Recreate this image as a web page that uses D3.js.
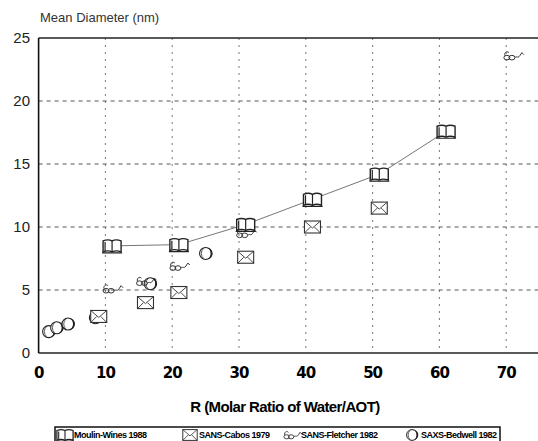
<!DOCTYPE html>
<html><head><meta charset="utf-8">
<script src="https://cdn.jsdelivr.net/npm/d3@7"></script>
<style>body{margin:0;background:#fff;} svg{display:block;font-family:"Liberation Sans",Arial,sans-serif;}</style>
</head><body>
<script>
// ---- data ----
const seriesNames = ["Moulin-Wines 1988", "SANS-Cabos 1979", "SANS-Fletcher 1982", "SAXS-Bedwell 1982"];
const bookR = [11, 21, 31, 41, 51, 61];
const bookD = [8.5, 8.6, 10.2, 12.2, 14.2, 17.6];
const envR = [9, 16, 21, 31, 41, 51];
const envD = [2.9, 4.0, 4.8, 7.6, 10.0, 11.5];
const glassR = [11, 16, 21, 31, 71];
const glassD = [5.1, 5.7, 6.9, 9.5, 23.6];
const moonR = [1.5, 2.7, 4.4, 8.5, 16.7, 25];
const moonD = [1.7, 2.0, 2.3, 2.8, 5.5, 7.9];
const xTicks = [0, 10, 20, 30, 40, 50, 60, 70];
const yTicks = [0, 5, 10, 15, 20, 25];

const W = 538, H = 441;
const svg = d3.select("body").append("svg").attr("width", W).attr("height", H);
const x = d3.scaleLinear().domain([0, 75]).range([38.6, 539.6]);
const y = d3.scaleLinear().domain([0, 25]).range([353, 38]);

// grid
svg.append("g").selectAll("line").data(xTicks.filter(d => d > 0)).join("line")
  .attr("x1", d => x(d)).attr("x2", d => x(d)).attr("y1", y(25)).attr("y2", y(0))
  .attr("stroke", "#777").attr("stroke-width", 1).attr("stroke-dasharray", "2,5");
svg.append("g").selectAll("line").data(yTicks.filter(d => d > 0 && d < 25)).join("line")
  .attr("x1", x(0)).attr("x2", W).attr("y1", d => y(d)).attr("y2", d => y(d))
  .attr("stroke", "#555").attr("stroke-width", 1).attr("stroke-dasharray", "4,4");

// frame
svg.append("line").attr("x1", x(0)).attr("x2", W).attr("y1", y(25)).attr("y2", y(25)).attr("stroke", "#222").attr("stroke-width", 1.3);
svg.append("line").attr("x1", x(0)).attr("x2", W).attr("y1", y(0)).attr("y2", y(0)).attr("stroke", "#222").attr("stroke-width", 1.3);
svg.append("line").attr("x1", x(0)).attr("x2", x(0)).attr("y1", y(25)).attr("y2", y(0)).attr("stroke", "#111").attr("stroke-width", 1.6);

// y labels
svg.append("g").selectAll("text").data(yTicks).join("text")
  .attr("x", 30).attr("y", d => y(d) + 5).attr("text-anchor", "end")
  .attr("font-size", 15).attr("fill", "#222").text(d => d);
// x labels
svg.append("g").selectAll("text").data(xTicks).join("text")
  .attr("x", d => x(d)).attr("y", 378).attr("text-anchor", "middle")
  .attr("font-size", 15).attr("font-weight", 900).attr("fill", "#000")
  .style("font-family", "'DejaVu Sans',sans-serif").attr("letter-spacing", -1).text(d => d);

svg.append("text").attr("x", 40).attr("y", 22).attr("font-size", 13).attr("fill", "#333").text("Mean Diameter (nm)");
svg.append("text").attr("x", 285).attr("y", 412).attr("text-anchor", "middle").attr("font-size", 15)
  .attr("font-weight", "bold").attr("fill", "#000").attr("letter-spacing", -0.6).text("R (Molar Ratio of Water/AOT)");

// line for series 1
const pts1 = bookR.map((r, i) => [r, bookD[i]]);
svg.append("path").datum(pts1)
  .attr("d", d3.line().x(d => x(d[0])).y(d => y(d[1])))
  .attr("fill", "none").attr("stroke", "#666").attr("stroke-width", 0.9);

// icons
function book(g) {
  g.append("path").attr("d", "M-9,-5 Q-4,-7 0,-5 Q4,-7 9,-5 L9,6 Q4,4 0,6 Q-4,4 -9,6 Z").attr("fill", "#fff").attr("stroke", "#222").attr("stroke-width", 1.4);
  g.append("path").attr("d", "M0,-5V6 M-10,7 L10,7 M-7,-4V5").attr("fill", "none").attr("stroke", "#222").attr("stroke-width", 1.2);
}
function envelope(g) {
  g.append("rect").attr("x", -8).attr("y", -6).attr("width", 16).attr("height", 12).attr("fill", "#fff").attr("stroke", "#333").attr("stroke-width", 1.1);
  g.append("path").attr("d", "M-8,-6 L0,1 L8,-6 M-8,6 L-2,0 M8,6 L2,0").attr("fill", "none").attr("stroke", "#333").attr("stroke-width", 0.9);
}
function glasses(g) {
  g.append("ellipse").attr("cx", -6).attr("cy", 2).attr("rx", 3).attr("ry", 2.3).attr("fill", "none").attr("stroke", "#333").attr("stroke-width", 1);
  g.append("ellipse").attr("cx", -1).attr("cy", 2).attr("rx", 3).attr("ry", 2.3).attr("fill", "none").attr("stroke", "#333").attr("stroke-width", 1);
  g.append("path").attr("d", "M-8,0 C-9,-3 -6,-5 -4,-3 M2,2 C4,0 5,3 7,0 L9,-3 L11,-1").attr("fill", "none").attr("stroke", "#333").attr("stroke-width", 1);
}
function moon(g) {
  g.append("circle").attr("r", 6).attr("fill", "#fff").attr("stroke", "#222").attr("stroke-width", 1.1);
  g.append("path").attr("d", "M1,-6 A6,6 0 0 1 1,6 A4,6 0 0 0 1,-6 Z").attr("fill", "#222");
  g.append("path").attr("d", "M-2,-5 A5,6 0 0 0 -2,5").attr("fill", "none").attr("stroke", "#333").attr("stroke-width", 0.8);
}

function drawSeries(R, D, fn) {
  const g = svg.append("g");
  R.forEach((r, i) => {
    const s = g.append("g").attr("transform", `translate(${x(r)},${y(D[i])})`);
    fn(s);
  });
}
drawSeries(moonR, moonD, moon);
drawSeries(envR, envD, envelope);
drawSeries(glassR, glassD, glasses);
drawSeries(bookR, bookD, book);

// legend
const lg = svg.append("g");
lg.append("rect").attr("x", 55).attr("y", 427).attr("width", 445).attr("height", 22)
  .attr("fill", "#fff").attr("stroke", "#111").attr("stroke-width", 1.5);
const legX = [65, 190, 292, 412];
const icons = [book, envelope, glasses, moon];
seriesNames.forEach((n, i) => {
  const ig = lg.append("g").attr("transform", `translate(${legX[i]},${435}) scale(0.9)`);
  icons[i](ig);
  lg.append("text").attr("x", legX[i] + 9).attr("y", 438).attr("font-size", 9).attr("font-weight", "bold")
    .attr("fill", "#000").attr("letter-spacing", -0.5).text(n);
});
</script>
</body></html>
